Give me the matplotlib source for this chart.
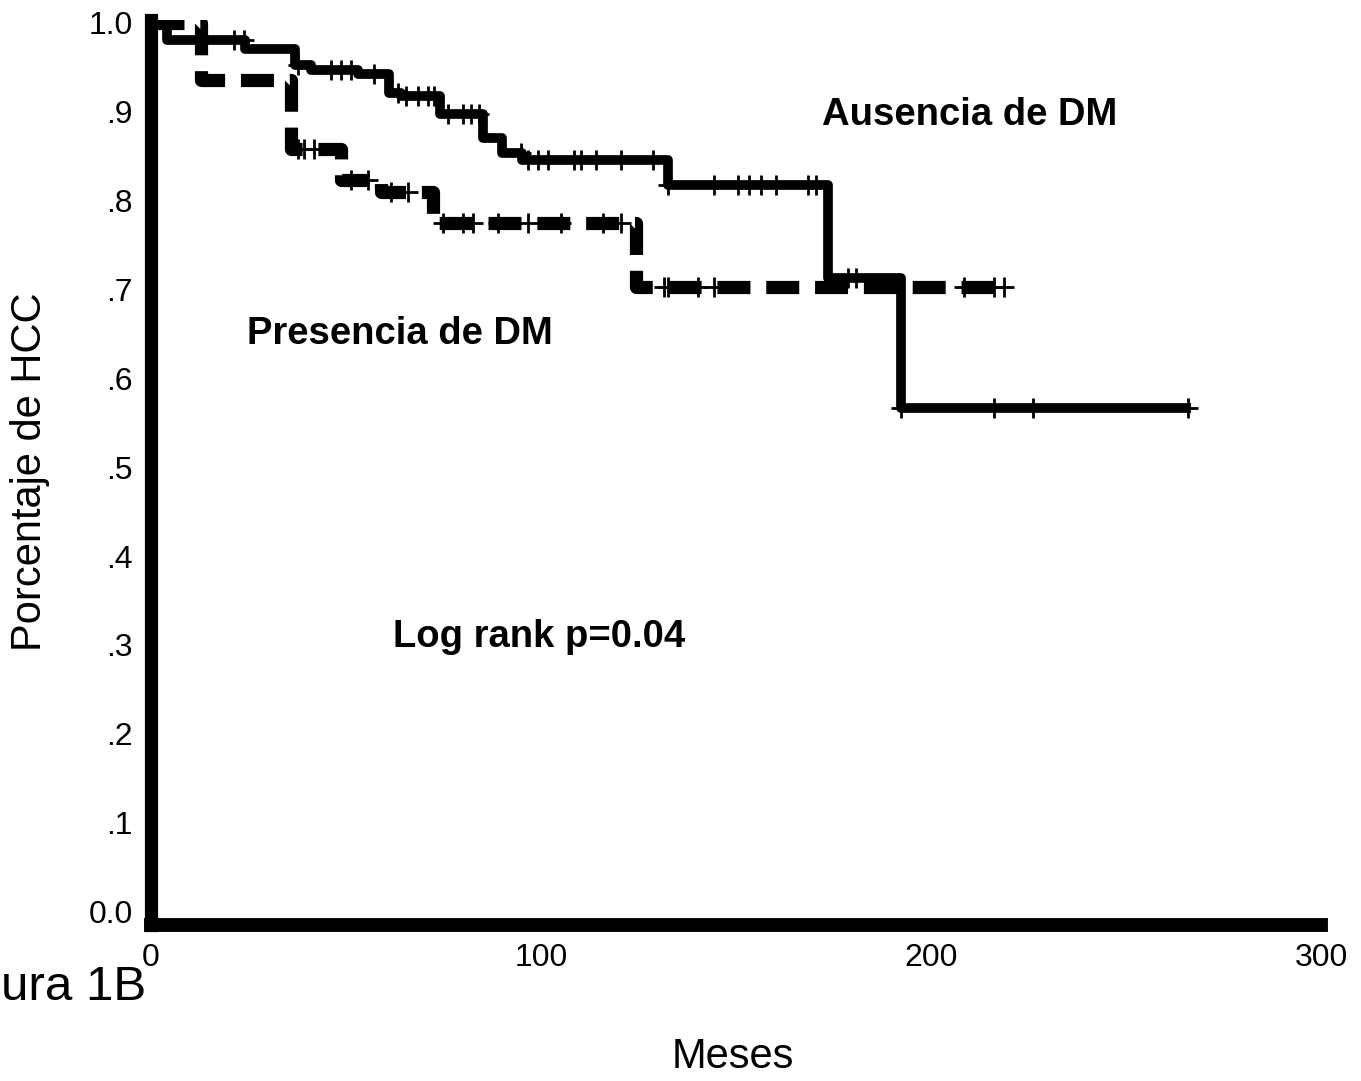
import numpy as np
import matplotlib
matplotlib.use("Agg")
import matplotlib.pyplot as plt

plt.rcParams['font.family'] = ['Liberation Sans', 'DejaVu Sans']

# Kaplan-Meier steps (months, survival proportion)
ausencia_t = [0, 4, 24, 37, 41, 53, 61, 64, 74, 85, 90, 95, 132.6, 173.6, 192.3, 266.7]
ausencia_s = [1.0, 0.980, 0.970, 0.952, 0.947, 0.942, 0.921, 0.917, 0.897, 0.870, 0.853, 0.845,
              0.817, 0.713, 0.566, 0.566]
ausencia_cens = [21.3, 23.8, 37.7, 46.2, 48.7, 51.3, 57.2, 63.3, 65.4, 68.5, 71.0, 72.6, 76.2,
                 80, 82, 84.1, 94.9, 96.7, 99.2, 101.8, 108.5, 110.3, 114.1, 120.5, 128.7,
                 132.6, 144.4, 150.5, 153.3, 156.4, 160.3, 168.5, 170.5, 178.7, 180.8, 192.3,
                 216.2, 226.2, 265.9]

presencia_t = [0, 12.8, 36, 48.7, 59, 72.3, 124.4, 218.7]
presencia_s = [1.0, 0.935, 0.858, 0.823, 0.809, 0.775, 0.703, 0.703]
presencia_cens = [37.7, 39.2, 41.8, 51.3, 55.6, 61.5, 65.9, 74.9, 80, 82.6, 89, 96.7, 105.1,
                  115.9, 120.5, 131.5, 132.6, 140.3, 144.4, 208.5, 216.2, 218.7]

x_ticks = [0, 100, 200, 300]
y_ticks = [0.0, 0.1, 0.2, 0.3, 0.4, 0.5, 0.6, 0.7, 0.8, 0.9, 1.0]
y_ticklabels = ["0.0", ".1", ".2", ".3", ".4", ".5", ".6", ".7", ".8", ".9", "1.0"]


def step_value(times, surv, t):
    idx = np.searchsorted(times, t, side="right") - 1
    return np.asarray(surv)[idx]


fig = plt.figure(figsize=(13.61, 10.81), dpi=100)
ax = fig.add_axes([0.111, 0.1443, 0.8597, 0.8372])

ax.step(ausencia_t, ausencia_s, where="post", color="black", lw=7, solid_capstyle="butt",
        zorder=3)
ax.plot(ausencia_cens, step_value(ausencia_t, ausencia_s, ausencia_cens), ls="none",
        marker="+", ms=14, mew=2, color="black", zorder=4)

line, = ax.step(presencia_t, presencia_s, where="post", color="black", lw=9.5, zorder=3)
line.set_dashes((2.5, 1.2))
line.set_dash_capstyle("butt")
ax.plot(presencia_cens, step_value(presencia_t, presencia_s, presencia_cens), ls="none",
        marker="+", ms=14, mew=2, color="black", zorder=4)

ax.set_xlim(0, 300)
ax.set_ylim(-0.015, 1.003)
ax.set_xticks(x_ticks)
ax.set_yticks(y_ticks)
ax.set_yticklabels(y_ticklabels)
ax.tick_params(labelsize=23, length=3, width=2, pad=10)

for side in ["top", "right"]:
    ax.spines[side].set_visible(False)
ax.spines["left"].set_linewidth(9.5)
ax.spines["bottom"].set_linewidth(10)

fig.text(0.7127, 0.8936, "Ausencia de DM", fontsize=27.5, fontweight="bold",
         ha="center", va="center")
fig.text(0.2939, 0.691, "Presencia de DM", fontsize=27.5, fontweight="bold",
         ha="center", va="center")
fig.text(0.396, 0.4107, "Log rank p=0.04", fontsize=27.5, fontweight="bold",
         ha="center", va="center")

fig.text(30 / 1361, 1 - 472 / 1081, "Porcentaje de HCC", fontsize=30, rotation=90,
         ha="center", va="center")
fig.text(733 / 1361, 1 - 1057 / 1081, "Meses", fontsize=30, ha="center", va="center")
fig.text(146 / 1361, 1 - 1000 / 1081, "ura 1B", fontsize=35.5, ha="right", va="baseline")

fig.savefig("out.png", dpi=100)
